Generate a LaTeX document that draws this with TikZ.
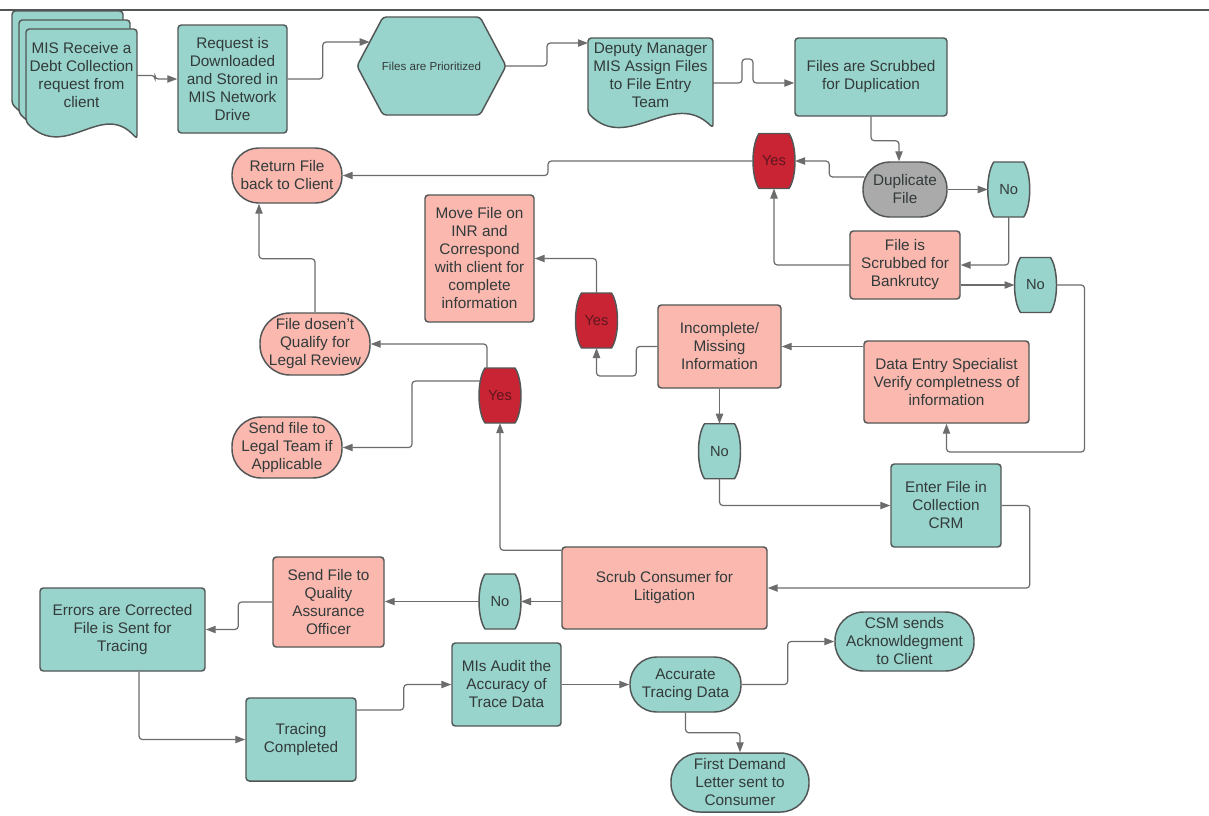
\documentclass[tikz,border=0pt]{standalone}
\usepackage{fontspec}
\setmainfont{Liberation Sans}
\usetikzlibrary{calc,positioning,backgrounds,arrows.meta}

\definecolor{tealc}{RGB}{152,212,203}
\definecolor{pinkc}{RGB}{250,184,175}
\definecolor{redc}{RGB}{200,36,52}
\definecolor{grayc}{RGB}{170,170,170}
\definecolor{edgec}{RGB}{82,86,86}
\definecolor{wirec}{RGB}{108,108,108}
\definecolor{txtc}{RGB}{50,58,58}
\definecolor{yestxt}{RGB}{95,22,30}

\begin{document}
\begin{tikzpicture}[x=0.75pt,y=-0.75pt,
    dims/.style 2 args={minimum width=#1*0.75pt,minimum height=#2*0.75pt},
    stepbase/.style={draw=edgec,line width=1.1pt,text=txtc,align=center,
      font=\fontsize{11.5}{13.5}\selectfont,inner sep=1pt},
    tealbox/.style={stepbase,rectangle,rounded corners=2.5pt,fill=tealc},
    pinkbox/.style={stepbase,rectangle,rounded corners=2.5pt,fill=pinkc},
    tealpill/.style={stepbase,rectangle,rounded corners=#1,fill=tealc},
    tealpill/.default=20pt,
    pinkpill/.style={stepbase,rectangle,rounded corners=#1,fill=pinkc},
    pinkpill/.default=20pt,
    graypill/.style={stepbase,rectangle,rounded corners=20pt,fill=grayc},
    textonly/.style={align=center,text=txtc,inner sep=0pt,outer sep=0pt,
      font=\fontsize{11.5}{13.5}\selectfont},
    yesbar/.style={textonly,text=yestxt,font=\fontsize{11}{12}\selectfont,dims={42}{55}},
    nobar/.style={textonly,font=\fontsize{11}{12}\selectfont,dims={42}{55}},
    docpath/.style={draw=edgec,line width=1.1pt,fill=tealc,line join=round,rounded corners=2.5pt},
    barrelpath/.style={draw=edgec,line width=1.1pt,line join=round},
    wire/.style={draw=wirec,line width=0.9pt,rounded corners=2.5pt,
      -{Triangle[length=7.5pt,width=5.5pt]}}]
  \useasboundingbox (0,0) rectangle (1209,815);
  \draw[line width=1.4pt,draw=edgec] (0,10) -- (1209,10);

  % top row
  \node[textonly,dims={111}{93}] (mis) at (81.5,75.5) {MIS Receive a\\Debt Collection\\request from\\client};
  \node[tealbox,dims={109}{108}] (req) at (232.5,79) {Request is\\Downloaded\\and Stored in\\MIS Network\\Drive};
  \node[textonly,font=\fontsize{8.7}{10}\selectfont,dims={149}{98}] (prio) at (431.5,66) {Files are Prioritized};
  \node[textonly,dims={125}{75}] (dep) at (650.5,75.5) {Deputy Manager\\MIS Assign Files\\to File Entry\\Team};
  \node[tealbox,dims={152}{78}] (dupscrub) at (871,77) {Files are Scrubbed\\for Duplication};

  % duplicate and bankruptcy checks
  \node[yesbar] (yes1) at (774,161) {Yes};
  \node[graypill,dims={84}{55}] (dup) at (905,189.5) {Duplicate\\File};
  \node[nobar,right=30pt of dup] (no1) {No};
  \node[pinkbox,dims={110}{68}] (bank) at (905,265) {File is\\Scrubbed for\\Bankrutcy};
  \node[nobar] (no2) at (1035.5,285) {No};
  \node[pinkpill,dims={110}{55}] (ret) at (287,175.5) {Return File\\back to Client};

  % completeness check
  \node[pinkbox,dims={109}{127}] (move) at (479.5,258.5) {Move File on\\INR and\\Correspond\\with client for\\complete\\information};
  \node[yesbar] (yes2) at (596.5,320.5) {Yes};
  \node[pinkbox,dims={123}{83}] (inc) at (719.5,346.5) {Incomplete/\\Missing\\Information};
  \node[pinkbox,dims={165}{82}] (dataent) at (946.5,382) {Data Entry Specialist\\Verify completness of\\information};
  \node[nobar,below=26.25pt of inc] (no3) {No};
  \node[tealbox,dims={110}{83}] (enter) at (946,505.5) {Enter File in\\Collection\\CRM};

  % litigation
  \node[pinkbox,dims={205}{82}] (scrub) at (664.5,588) {Scrub Consumer for\\Litigation};
  \node[yesbar] (yes3) at (500,395.5) {Yes};
  \node[pinkpill=22.5pt,dims={110}{62}] (nolegal) at (315,344) {File dosen't\\Qualify for\\Legal Review};
  \node[pinkpill=22pt,dims={110}{61}] (legal) at (287,447.5) {Send file to\\Legal Team if\\Applicable};
  \node[nobar] (no4) at (500,601.5) {No};
  \node[pinkbox,dims={111}{90}] (qa) at (328.5,602) {Send File to\\Quality\\Assurance\\Officer};

  % tracing
  \node[tealbox,dims={165}{83}] (err) at (122.5,629.5) {Errors are Corrected\\File is Sent for\\Tracing};
  \node[tealbox,dims={110}{83}] (traced) at (301,739.5) {Tracing\\Completed};
  \node[tealbox,dims={109}{83}] (audit) at (506.5,684.5) {MIs Audit the\\Accuracy of\\Trace Data};
  \node[tealpill,dims={111}{55}] (accur) at (685.5,684.5) {Accurate\\Tracing Data};
  \node[tealpill=21.5pt,dims={139}{59}] (csm) at (904.5,641.5) {CSM sends\\Acknowldegment\\to Client};
  \node[tealpill=21.5pt,dims={138}{59}] (first) at (740,782.5) {First Demand\\Letter sent to\\Consumer};

  % outlines drawn behind the text
  \coordinate (prionw) at ($(prio.north west)+(26,0)$);
  \coordinate (prioin) at ($(prio.west)!0.49!(prionw)$);
  \begin{scope}[on background layer]
    \fill[white] (0,0) rectangle (1209,815);
    \foreach \dx/\dy in {-14/-18,-7/-9,0/0}
      \path[docpath] ($(mis.north west)+(\dx,\dy)$) -- ($(mis.north east)+(\dx,\dy)$)
        -- ($(mis.south east)+(\dx,\dy+17)$) .. controls +(-35,-40) and +(40,40) .. ($(mis.south west)+(\dx,\dy)$) -- cycle;
    \path[docpath] (prio.west) -- (prionw) -- ($(prio.north east)+(-26,0)$) -- (prio.east)
      -- ($(prio.south east)+(-26,0)$) -- ($(prio.south west)+(26,0)$) -- cycle;
    \path[docpath] (dep.north west) -- (dep.north east) -- ($(dep.south east)+(0,15)$)
      .. controls +(-40,-40) and +(40,40) .. (dep.south west) -- cycle;
    % yes / no barrels
    \foreach \n/\c in {yes1/redc,yes2/redc,yes3/redc,no1/tealc,no2/tealc,no3/tealc,no4/tealc}
      \path[barrelpath,fill=\c] (\n.north) -- ($(\n.north east)+(-6,0)$)
        .. controls +(8,12) and +(8,-12) .. ($(\n.south east)+(-6,0)$)
        -- ($(\n.south west)+(6,0)$)
        .. controls +(-8,-12) and +(-8,12) .. ($(\n.north west)+(6,0)$) -- cycle;
  \end{scope}

  % connectors
  \draw[wire] (mis.east) -- ++(18,0) |- (req.west);
  \draw[wire] (req.east) -- ++(35,0) |- (prioin);
  \draw[wire] (prio.east) -- ++(41,0) |- ($(dep.west)+(0,-32.5)$);
  \draw[wire] ($(dep.east)+(0,7.5)$) -- ++(29,0) -- ++(0,-24) -- ++(11,0) -- ++(0,24) -- ($(dupscrub.west)+(0,6)$);
  \draw[wire] (dupscrub.south) -- ++(0,24) -| ($(dup.north)+(-6,0)$);
  \draw[wire] ($(dup.west)+(2,-12.5)$) -- ++(-35,0) |- (yes1.east);
  \draw[wire] (dup.east) -- (no1.west);
  \draw[wire] (no1.south) |- (bank.east);
  \draw[wire] (bank.west) -| (yes1.south);
  \draw[wire] (no2.west -| bank.east) -- (no2.west);
  \draw[wire] (no2.east) -- ++(28,0) -- ++(0,167) -| (dataent.south);
  \draw[wire] (yes1.west) -- ++(-205,0) |- (ret.east);
  \draw[wire] (inc.east -| dataent.west) -- (inc.east);
  \draw[wire] (inc.west) -- ++(-21,0) |- ($(yes2.south)+(0,28)$) -- (yes2.south);
  \draw[wire] (yes2.north) |- (move.east);
  \draw[wire] (inc.south) -- (no3.north);
  \draw[wire] (no3.south) |- (enter.west);
  \draw[wire] (enter.east) -- ++(28,0) |- (scrub.east);
  \draw[wire] ($(scrub.north west)+(0,4)$) -| (yes3.south);
  \draw[wire] ($(yes3.north)+(-13,0)$) |- (nolegal.east);
  \draw[wire] ($(yes3.west)+(1,-14.5)$) -- ++(-68,0) |- (legal.east);
  \draw[wire] (nolegal.north) |- ($(ret.south)+(-28,55)$) -- ($(ret.south)+(-28,0)$);
  \draw[wire] (no4.east -| scrub.west) -- (no4.east);
  \draw[wire] (no4.west) -- (qa.east |- no4.west);
  \draw[wire] (qa.west) -- ++(-34,0) |- (err.east);
  \draw[wire] ($(err.south)+(16.5,0)$) |- (traced.west);
  \draw[wire] ($(traced.east)+(0,-29.5)$) -- ++(47,0) |- (audit.west);
  \draw[wire] (audit.east) -- (accur.west);
  \draw[wire] (accur.east) -- ++(46,0) |- (csm.west);
  \draw[wire] (accur.south) -- ++(0,20) -| (first.north);
\end{tikzpicture}
\end{document}
